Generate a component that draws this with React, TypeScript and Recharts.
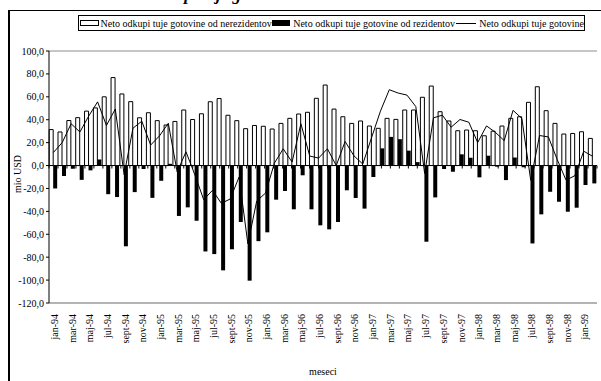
import { Bar, ComposedChart, Line, ReferenceLine, XAxis, YAxis } from "recharts";

const SERIF = "'Liberation Serif', 'Times New Roman', Times, serif";

const MONTHS = [
  "jan-94", "feb-94", "mar-94", "apr-94", "maj-94", "jun-94", "jul-94", "avg-94", "sept-94", "okt-94", "nov-94", "dec-94",
  "jan-95", "feb-95", "mar-95", "apr-95", "maj-95", "jun-95", "jul-95", "avg-95", "sept-95", "okt-95", "nov-95", "dec-95",
  "jan-96", "feb-96", "mar-96", "apr-96", "maj-96", "jun-96", "jul-96", "avg-96", "sept-96", "okt-96", "nov-96", "dec-96",
  "jan-97", "feb-97", "mar-97", "apr-97", "maj-97", "jun-97", "jul-97", "avg-97", "sept-97", "okt-97", "nov-97", "dec-97",
  "jan-98", "feb-98", "mar-98", "apr-98", "maj-98", "jun-98", "jul-98", "avg-98", "sept-98", "okt-98", "nov-98", "dec-98",
  "jan-99", "feb-99",
];

// mio USD
const NEREZ = [
  31.4, 29.3, 39.3, 41.8, 47.5, 50.3, 60.0, 76.8, 62.5, 55.8, 41.7, 46.1,
  39.2, 35.4, 38.5, 48.5, 40.2, 45.2, 55.7, 58.5, 43.9, 39.2, 32.2, 35.0,
  34.3, 31.9, 36.8, 41.2, 45.0, 46.5, 58.7, 70.3, 49.3, 42.6, 36.8, 38.9,
  34.5, 32.5, 41.2, 40.3, 48.5, 48.5, 59.6, 69.4, 47.0, 38.9, 30.4, 31.0,
  30.4, 26.0, 30.0, 34.5, 41.2, 42.6, 55.2, 68.8, 47.9, 36.8, 27.5, 28.0,
  29.5, 23.7,
];

const REZ = [
  -20.0, -9.2, -2.8, -12.5, -4.2, 5.3, -25.0, -27.5, -70.5, -23.2, -3.0, -28.2,
  -13.3, 1.5, -44.0, -36.5, -48.2, -75.0, -77.3, -91.5, -73.1, -49.3, -100.5, -66.0,
  -58.3, -29.8, -22.2, -38.2, -8.5, -38.2, -52.2, -55.7, -49.3, -21.6, -28.3, -37.6,
  -10.0, 15.0, 25.0, 23.0, 13.0, 3.0, -66.5, -27.8, -3.0, -5.4, 9.8, 6.8,
  -10.3, 8.6, -1.0, -12.7, 7.0, -1.5, -68.0, -42.6, -22.9, -31.6, -40.3, -36.8,
  -17.0, -15.6,
];

const TOTAL = [
  11.4, 20.1, 36.5, 29.3, 43.3, 55.6, 35.0, 49.3, -8.0, 32.6, 38.7, 17.9,
  25.9, 36.9, -5.5, 12.0, -8.0, -29.8, -21.6, -33.0, -29.2, -10.1, -68.3, -31.0,
  -24.0, 2.1, 14.6, 3.0, 36.5, 8.3, 6.5, 14.6, 0.0, 21.0, 8.5, 1.3,
  24.5, 47.5, 66.2, 63.3, 61.5, 51.5, -6.9, 41.6, 44.0, 33.5, 40.2, 37.8,
  20.1, 34.6, 29.0, 21.8, 48.2, 41.1, -12.8, 26.2, 25.0, 5.2, -12.8, -8.8,
  12.5, 8.1,
];

const Y_TICKS = [-120, -100, -80, -60, -40, -20, 0, 20, 40, 60, 80, 100];

const data = MONTHS.map((month, i) => ({
  month,
  nerez: NEREZ[i],
  rez: REZ[i],
  total: TOTAL[i],
}));

// category boundaries on the zero line
const EDGES = Array.from({ length: MONTHS.length + 1 }, (_, k) => k);

const fmt = (v: number) => v.toFixed(1).replace(".", ",");

function MonthTick({ x, y, payload, index }: any) {
  if (index % 2 !== 0) return <g />;
  const tx = x + 1;
  const ty = y + 1;
  return (
    <text
      x={tx}
      y={ty}
      transform={`rotate(-90 ${tx} ${ty})`}
      textAnchor="end"
      dominantBaseline="central"
      fontSize={10}
      fontFamily={SERIF}
      fill="#000"
    >
      {payload.value}
    </text>
  );
}

function YTitle({ viewBox }: any) {
  const cx = viewBox.x + 17;
  const cy = viewBox.y + viewBox.height / 2 - 3;
  return (
    <text
      x={cx}
      y={cy}
      transform={`rotate(-90 ${cx} ${cy})`}
      textAnchor="middle"
      dominantBaseline="central"
      fontSize={10}
      fontFamily={SERIF}
      fill="#000"
    >
      mio USD
    </text>
  );
}

function XTitle({ viewBox }: any) {
  return (
    <text
      x={viewBox.x + viewBox.width / 2}
      y={viewBox.y + 72}
      textAnchor="middle"
      fontSize={10}
      fontFamily={SERIF}
      fill="#000"
    >
      meseci
    </text>
  );
}

function LegendBox() {
  const swatch = { width: 20, height: 6, boxSizing: "border-box" as const };
  return (
    <div
      style={{
        position: "absolute",
        left: 78,
        top: 15,
        width: 507,
        height: 16,
        border: "1px solid #000",
        boxSizing: "border-box",
        display: "flex",
        alignItems: "center",
        fontSize: 10,
        whiteSpace: "nowrap",
        paddingLeft: 1,
      }}
    >
      <span style={{ ...swatch, border: "1px solid #000", background: "#fff" }} />
      <span style={{ marginLeft: 2 }}>Neto odkupi tuje gotovine od nerezidentov</span>
      <span style={{ ...swatch, background: "#000" }} />
      <span style={{ marginLeft: 3 }}>Neto odkupi tuje gotovine od rezidentov</span>
      <span style={{ width: 22, height: 1, background: "#000", marginLeft: 1 }} />
      <span style={{ marginLeft: 3 }}>Neto odkupi tuje gotovine</span>
    </div>
  );
}

export default function App() {
  return (
    <div
      style={{
        position: "absolute",
        left: 0,
        top: 0,
        width: 601,
        height: 381,
        overflow: "hidden",
        background: "#fff",
        fontFamily: SERIF,
        color: "#000",
      }}
    >
      <div
        style={{
          position: "absolute",
          left: 8,
          top: 10,
          width: 640,
          height: 420,
          borderLeft: "2px solid #000",
          borderTop: "1px solid #000",
        }}
      />
      <div
        style={{
          position: "absolute",
          left: 112,
          top: -14,
          fontSize: 17,
          lineHeight: "17px",
          fontWeight: "bold",
          fontStyle: "italic",
          whiteSpace: "nowrap",
        }}
      >
        Neto odkupi tuje gotovine od rezidentov in nerezidentov
      </div>
      <LegendBox />
      <ComposedChart
        width={601}
        height={381}
        data={data}
        margin={{ top: 51, right: 4, bottom: 0, left: 0 }}
        barGap={0}
        barCategoryGap="2%"
        style={{ position: "absolute", left: 0, top: 0 }}
      >
        <XAxis
          xAxisId="cat"
          dataKey="month"
          interval={0}
          height={78}
          axisLine={false}
          tickLine={false}
          tickSize={0}
          tickMargin={10}
          tick={<MonthTick />}
          label={<XTitle />}
        />
        <XAxis xAxisId="edge" type="number" domain={[0, MONTHS.length]} hide />
        <YAxis
          width={49}
          domain={[-120, 100]}
          ticks={Y_TICKS}
          interval={0}
          tickFormatter={fmt}
          tick={{ fontSize: 10, fill: "#000", fontFamily: SERIF }}
          tickSize={3}
          tickMargin={2}
          axisLine={{ stroke: "#000" }}
          tickLine={{ stroke: "#000" }}
          label={<YTitle />}
        />
        <ReferenceLine xAxisId="cat" y={100} stroke="#8c8c8c" />
        <ReferenceLine xAxisId="cat" y={-120} stroke="#b4b4b4" strokeWidth={2} />
        <ReferenceLine xAxisId="edge" x={MONTHS.length} stroke="#8c8c8c" />
        <Bar
          xAxisId="cat"
          dataKey="nerez"
          fill="#fff"
          stroke="#000"
          strokeWidth={1}
          isAnimationActive={false}
        />
        <Bar xAxisId="cat" dataKey="rez" fill="#000" isAnimationActive={false} />
        <ReferenceLine xAxisId="cat" y={0} stroke="#000" />
        {EDGES.map((k) => (
          <ReferenceLine
            key={k}
            xAxisId="edge"
            segment={[
              { x: k, y: 0 },
              { x: k, y: -2.6 },
            ]}
            stroke="#000"
          />
        ))}
        <Line
          xAxisId="cat"
          type="linear"
          dataKey="total"
          stroke="#000"
          strokeWidth={1}
          dot={false}
          isAnimationActive={false}
        />
      </ComposedChart>
    </div>
  );
}
